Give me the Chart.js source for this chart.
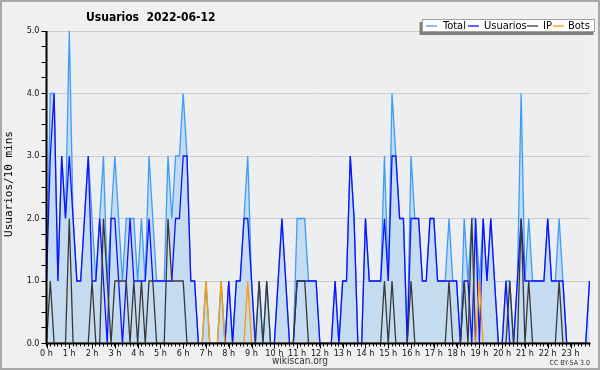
<!DOCTYPE html>
<html>
<head>
<meta charset="utf-8">
<script src="https://cdn.jsdelivr.net/npm/chart.js@4.4.0/dist/chart.umd.min.js"></script>
<style>
  html, body { margin: 0; padding: 0; background: #f0f0f0; }
  canvas { display: block; }
</style>
</head>
<body>
<canvas id="usersChart" width="600" height="370"></canvas>
<script>
// hour tick labels, one every 6 slots of 10 minutes
const hourLabels = ['0 h', '1 h', '2 h', '3 h', '4 h', '5 h', '6 h', '7 h', '8 h', '9 h', '10 h', '11 h',
  '12 h', '13 h', '14 h', '15 h', '16 h', '17 h', '18 h', '19 h', '20 h', '21 h', '22 h', '23 h'];

// values per 10 min slot
const total = [
  1, 4, 4, 1, 3, 2, 5, 2, 1, 1,   2, 3, 2, 1, 2, 3, 1, 2, 3, 2,
  1, 2, 2, 2, 1, 2, 1, 3, 2, 1,   1, 1, 3, 2, 3, 3, 4, 3, 1, 1,
  0, 0, 1, 0, 0, 0, 1, 0, 1, 0,   1, 1, 2, 3, 1, 0, 1, 0, 1, 0,
  0, 1, 2, 1, 0, 0, 2, 2, 2, 1,   1, 1, 0, 0, 0, 0, 1, 0, 1, 1,
  3, 2, 0, 0, 2, 1, 1, 1, 1, 3,   1, 4, 3, 2, 2, 0, 3, 2, 2, 1,
  1, 2, 2, 1, 1, 1, 2, 1, 1, 0,   2, 1, 2, 2, 1, 2, 1, 2, 1, 0,
  0, 1, 1, 0, 1, 4, 1, 2, 1, 1,   1, 1, 2, 1, 1, 2, 1, 0, 0, 0,
  0, 0, 0, 1
];
const usuarios = [
  1, 3, 4, 1, 3, 2, 3, 2, 1, 1,   2, 3, 1, 1, 2, 1, 0, 2, 2, 1,
  0, 1, 2, 1, 1, 1, 1, 2, 1, 1,   1, 1, 1, 1, 2, 2, 3, 3, 1, 1,
  0, 0, 0, 0, 0, 0, 0, 0, 1, 0,   1, 1, 2, 2, 1, 0, 0, 0, 0, 0,
  0, 1, 2, 1, 0, 0, 1, 1, 1, 1,   1, 1, 0, 0, 0, 0, 1, 0, 1, 1,
  3, 2, 0, 0, 2, 1, 1, 1, 1, 2,   1, 3, 3, 2, 2, 0, 2, 2, 2, 1,
  1, 2, 2, 1, 1, 1, 1, 1, 1, 0,   1, 1, 0, 2, 0, 2, 1, 2, 1, 0,
  0, 1, 0, 0, 1, 2, 1, 1, 1, 1,   1, 1, 2, 1, 1, 1, 1, 0, 0, 0,
  0, 0, 0, 1
];
const ip = [
  0, 1, 0, 0, 0, 0, 2, 0, 0, 0,   0, 0, 1, 0, 0, 2, 1, 0, 1, 1,
  1, 1, 0, 1, 0, 1, 0, 1, 1, 0,   0, 0, 2, 1, 1, 1, 1, 0, 0, 0,
  0, 0, 0, 0, 0, 0, 0, 0, 0, 0,   0, 0, 0, 0, 0, 0, 1, 0, 1, 0,
  0, 0, 0, 0, 0, 0, 1, 1, 1, 0,   0, 0, 0, 0, 0, 0, 0, 0, 0, 0,
  0, 0, 0, 0, 0, 0, 0, 0, 0, 1,   0, 1, 0, 0, 0, 0, 1, 0, 0, 0,
  0, 0, 0, 0, 0, 0, 1, 0, 0, 0,   1, 0, 2, 0, 0, 0, 0, 0, 0, 0,
  0, 0, 1, 0, 0, 2, 0, 1, 0, 0,   0, 0, 0, 0, 0, 1, 0, 0, 0, 0,
  0, 0, 0, 0
];
const bots = [
  0, 0, 0, 0, 0, 0, 0, 0, 0, 0,   0, 0, 0, 0, 0, 0, 0, 0, 0, 0,
  0, 0, 0, 0, 0, 0, 0, 0, 0, 0,   0, 0, 0, 0, 0, 0, 0, 0, 0, 0,
  0, 0, 1, 0, 0, 0, 1, 0, 0, 0,   0, 0, 0, 1, 0, 0, 0, 0, 0, 0,
  0, 0, 0, 0, 0, 0, 0, 0, 0, 0,   0, 0, 0, 0, 0, 0, 0, 0, 0, 0,
  0, 0, 0, 0, 0, 0, 0, 0, 0, 0,   0, 0, 0, 0, 0, 0, 0, 0, 0, 0,
  0, 0, 0, 0, 0, 0, 0, 0, 0, 0,   0, 0, 0, 0, 1, 0, 0, 0, 0, 0,
  0, 0, 0, 0, 0, 0, 0, 0, 0, 0,   0, 0, 0, 0, 0, 0, 0, 0, 0, 0,
  0, 0, 0, 0
];

const slots = [];
hourLabels.forEach((h) => {
  for (let m = 0; m < 6; m++) slots.push(h + ' ' + m + '0');
});

const FONT = '"DejaVu Sans Condensed", "DejaVu Sans", sans-serif';
const colors = { total: '#3d9cf8', fill: '#c5dcf0', usuarios: '#1010ff', ip: '#383838', bots: '#ff9a00' };

const decorPlugin = {
  id: 'decor',
  beforeDraw(chart) {
    const { ctx, chartArea: a } = chart;
    ctx.save();
    ctx.fillStyle = '#f0f0f0';
    ctx.fillRect(0, 0, chart.width, chart.height);
    ctx.fillStyle = '#eceef0';
    ctx.fillRect(a.left, a.top, a.right - a.left, a.bottom - a.top);
    ctx.restore();
  },
  afterDatasetsDraw(chart) {
    const { ctx, chartArea: a } = chart;
    ctx.save();
    ctx.strokeStyle = '#000';
    ctx.lineWidth = 2;
    ctx.beginPath();
    ctx.moveTo(a.left, a.top);
    ctx.lineTo(a.left, a.bottom);
    ctx.lineTo(a.right + 1, a.bottom);
    ctx.stroke();
    ctx.restore();
  },
  afterDraw(chart) {
    const { ctx, chartArea: a } = chart;
    const x = chart.scales.x;
    ctx.save();

    // longer ticks at each hour
    ctx.strokeStyle = '#000';
    ctx.lineWidth = 1;
    hourLabels.forEach((h, i) => {
      const px = Math.round(x.getPixelForValue(i * 6)) + 0.5;
      ctx.beginPath();
      ctx.moveTo(px, a.bottom);
      ctx.lineTo(px, a.bottom + 5);
      ctx.stroke();
    });

    // title
    ctx.fillStyle = '#000';
    ctx.font = 'bold 12px ' + FONT;
    ctx.textBaseline = 'middle';
    ctx.textAlign = 'left';
    ctx.fillText('Usuarios  2022-06-12', 86, 18);

    // legend box
    ctx.fillStyle = '#808080';
    ctx.fillRect(419.5, 22, 174, 13);
    ctx.fillStyle = '#ffffff';
    ctx.fillRect(422, 19, 173, 13);
    ctx.strokeStyle = '#a0a0a0';
    ctx.strokeRect(422.5, 19.5, 172, 12);
    const items = [
      ['Total', colors.total, 426, 443],
      ['Usuarios', colors.usuarios, 468, 484],
      ['IP', colors.ip, 527, 543],
      ['Bots', colors.bots, 553, 568],
    ];
    ctx.font = '11px ' + FONT;
    items.forEach(([label, col, lx, tx]) => {
      ctx.strokeStyle = col;
      ctx.lineWidth = 1.3;
      ctx.beginPath();
      ctx.moveTo(lx, 26);
      ctx.lineTo(lx + 11, 26);
      ctx.stroke();
      ctx.fillStyle = '#000';
      ctx.fillText(label, tx, 26);
    });

    // y axis title
    ctx.save();
    ctx.translate(9, 184);
    ctx.rotate(-Math.PI / 2);
    ctx.font = '11px "DejaVu Sans Mono", monospace';
    ctx.textAlign = 'center';
    ctx.fillStyle = '#000';
    ctx.fillText('Usuarios/10 mins', 0, 0);
    ctx.restore();

    // footer
    ctx.textAlign = 'center';
    ctx.fillStyle = '#333';
    ctx.font = '10px ' + FONT;
    ctx.fillText('wikiscan.org', 300, 361);
    ctx.textAlign = 'right';
    ctx.font = '7px ' + FONT;
    ctx.fillText('CC BY-SA 3.0', 590, 363);

    // frame
    ctx.strokeStyle = '#a8a8a8';
    ctx.lineWidth = 2;
    ctx.strokeRect(1, 1, 598, 368);
    ctx.restore();
  },
};

new Chart(document.getElementById('usersChart').getContext('2d'), {
  type: 'line',
  data: {
    labels: slots,
    datasets: [
      {
        label: 'Total',
        data: total,
        borderColor: colors.total,
        backgroundColor: colors.fill,
        fill: 'origin',
        order: 4,
      },
      {
        label: 'Usuarios',
        data: usuarios,
        borderColor: colors.usuarios,
        fill: false,
        order: 3,
      },
      {
        label: 'IP',
        data: ip,
        borderColor: colors.ip,
        fill: false,
        order: 2,
      },
      {
        label: 'Bots',
        data: bots,
        borderColor: colors.bots,
        fill: false,
        order: 1,
      },
    ],
  },
  options: {
    responsive: false,
    devicePixelRatio: 1,
    animation: false,
    events: [],
    elements: {
      line: { borderWidth: 1.3, tension: 0 },
      point: { radius: 0 },
    },
    layout: { padding: { top: 31, right: 10.5, left: 0, bottom: 0 } },
    plugins: {
      legend: { display: false },
      title: { display: false },
      tooltip: { enabled: false },
    },
    scales: {
      x: {
        type: 'category',
        offset: false,
        border: { display: false },
        grid: { drawOnChartArea: false, tickLength: 3, tickColor: '#000', tickWidth: 1 },
        ticks: {
          autoSkip: false,
          maxRotation: 0,
          padding: 2,
          color: '#111',
          font: { family: FONT, size: 9 },
          callback: (value, index) => (index % 6 === 0 ? hourLabels[index / 6] : ''),
        },
        afterFit: (scale) => { scale.height = 26.5; },
      },
      y: {
        min: 0,
        max: 5,
        border: { display: false },
        grid: {
          color: (c) => (c.tick && c.tick.value % 1 === 0 && c.tick.value > 0 ? '#cdcdcd' : 'rgba(0,0,0,0)'),
          tickColor: '#000',
          tickLength: 5,
          lineWidth: 1,
        },
        ticks: {
          stepSize: 0.25,
          autoSkip: false,
          padding: 2,
          color: '#111',
          font: { family: FONT, size: 9 },
          callback: (v) => (v % 1 === 0 ? v.toFixed(1) : ''),
        },
        afterFit: (scale) => { scale.width = 46.5; },
      },
    },
  },
  plugins: [decorPlugin],
});
</script>
</body>
</html>
